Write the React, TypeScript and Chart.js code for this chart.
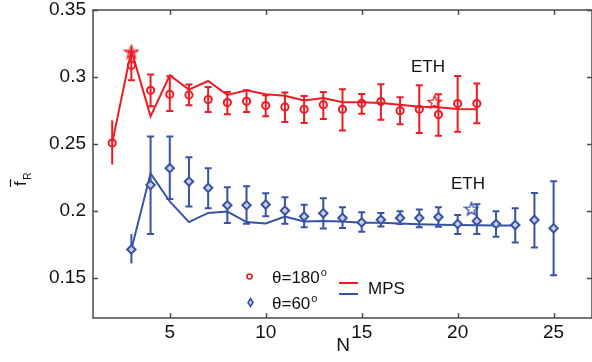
import { useEffect, useRef } from "react";
import { Chart, registerables } from "chart.js";

Chart.register(...registerables);

const FONT = "'Liberation Sans', Arial, Helvetica, sans-serif";
const RED = "#ED1C24";
const BLUE = "#3953A4";

// theta = 180 deg (red)
const redN = [2, 3, 4, 5, 6, 7, 8, 9, 10, 11, 12, 13, 14, 15, 16, 17, 18, 19, 20, 21];
const redMean = [0.2506, 0.3088, 0.290, 0.2871, 0.2866, 0.2831, 0.2809, 0.2818, 0.2786, 0.2776, 0.2758, 0.2793, 0.2758, 0.2803, 0.2816, 0.2748, 0.2758, 0.2719, 0.2801, 0.2801];
const redHi = [0.2676, 0.3188, 0.3018, 0.3006, 0.2943, 0.2925, 0.2888, 0.2901, 0.2863, 0.2883, 0.2858, 0.2888, 0.2908, 0.2873, 0.2946, 0.2848, 0.2938, 0.2871, 0.3008, 0.2951];
const redLo = [0.2346, 0.2976, 0.2781, 0.2746, 0.2788, 0.2738, 0.2721, 0.2738, 0.2706, 0.2663, 0.2656, 0.2686, 0.2601, 0.2726, 0.2681, 0.2646, 0.2581, 0.2561, 0.2591, 0.2654];
const redMps = [0.2506, 0.320, 0.2706, 0.3013, 0.2906, 0.297, 0.2865, 0.290, 0.2871, 0.2860, 0.2825, 0.2843, 0.2812, 0.2811, 0.2806, 0.2793, 0.2778, 0.2773, 0.2760, 0.2758];
const redEthN = [3, 18.8];
const redEth = [0.3188, 0.2813];

// theta = 60 deg (blue)
const blueN = [3, 4, 5, 6, 7, 8, 9, 10, 11, 12, 13, 14, 15, 16, 17, 18, 19, 20, 21, 22, 23, 24, 25];
const blueMean = [0.1712, 0.2194, 0.2319, 0.2219, 0.2172, 0.2042, 0.2042, 0.2047, 0.2002, 0.1958, 0.1982, 0.1947, 0.1914, 0.1934, 0.1947, 0.1947, 0.1954, 0.1902, 0.1924, 0.1902, 0.1894, 0.1932, 0.1870];
const blueHi = [0.1827, 0.2556, 0.2556, 0.2401, 0.2319, 0.2177, 0.2184, 0.2131, 0.2101, 0.2045, 0.2094, 0.2027, 0.1989, 0.1985, 0.1997, 0.2011, 0.2027, 0.1969, 0.2049, 0.1997, 0.2019, 0.2134, 0.2222];
const blueLo = [0.1607, 0.1827, 0.2089, 0.2033, 0.2019, 0.1910, 0.1903, 0.1959, 0.1903, 0.1877, 0.1869, 0.1872, 0.1844, 0.1884, 0.1902, 0.1877, 0.1882, 0.1828, 0.1828, 0.1807, 0.1764, 0.1727, 0.1520];
const blueMpsN = [3, 4, 5, 6, 7, 8, 9, 10, 11, 12, 13, 14, 15, 16, 17, 18, 19, 20, 21, 22, 23];
const blueMps = [0.1712, 0.228, 0.207, 0.1916, 0.1985, 0.1995, 0.1916, 0.1906, 0.1957, 0.1921, 0.1925, 0.1921, 0.1912, 0.1912, 0.1905, 0.1900, 0.1897, 0.1895, 0.1892, 0.1890, 0.1890];
const blueEthN = [20.72];
const blueEth = [0.2015];

const xTicks = [5, 10, 15, 20, 25];
const yTicks = [0.15, 0.2, 0.25, 0.3, 0.35];
const xRange = [1, 27];
const yRange = [0.12, 0.35];
const caplessRed = [2];
const caplessBlue = [3];

function pts(xs: number[], ys: number[]) {
  return xs.map((x, i) => ({ x, y: ys[i] }));
}

function makeStar(color: string) {
  const c = document.createElement("canvas");
  c.width = 16;
  c.height = 16;
  const g = c.getContext("2d")!;
  g.strokeStyle = color;
  g.lineWidth = 1.4;
  g.beginPath();
  for (let i = 0; i < 10; i++) {
    const r = i % 2 === 0 ? 7 : 2.9;
    const a = -Math.PI / 2 + (i * Math.PI) / 5;
    const px = 8 + r * Math.cos(a);
    const py = 8.5 + r * Math.sin(a);
    if (i === 0) g.moveTo(px, py);
    else g.lineTo(px, py);
  }
  g.closePath();
  g.stroke();
  return c;
}

function drawErrors(chart: any, xs: number[], hi: number[], lo: number[], color: string, capless: number[]) {
  const { ctx, scales } = chart;
  const sx = scales.x;
  const sy = scales.y;
  ctx.save();
  ctx.strokeStyle = color;
  ctx.lineWidth = 2;
  xs.forEach((n, i) => {
    const px = sx.getPixelForValue(n);
    const y1 = sy.getPixelForValue(hi[i]);
    const y2 = sy.getPixelForValue(lo[i]);
    ctx.beginPath();
    ctx.moveTo(px, y1);
    ctx.lineTo(px, y2);
    if (!capless.includes(n)) {
      ctx.moveTo(px - 3.5, y1);
      ctx.lineTo(px + 3.5, y1);
      ctx.moveTo(px - 3.5, y2);
      ctx.lineTo(px + 3.5, y2);
    }
    ctx.stroke();
  });
  ctx.restore();
}

const overlay = {
  id: "overlay",
  beforeDatasetsDraw(chart: any) {
    drawErrors(chart, redN, redHi, redLo, RED, caplessRed);
    drawErrors(chart, blueN, blueHi, blueLo, BLUE, caplessBlue);
  },
  afterDraw(chart: any) {
    const { ctx, chartArea: a, scales } = chart;
    const sx = scales.x;
    const sy = scales.y;
    ctx.save();
    // frame
    ctx.strokeStyle = "#4a4a4a";
    ctx.lineWidth = 1.5;
    ctx.strokeRect(a.left, a.top, a.right - a.left, a.bottom - a.top);
    ctx.beginPath();
    xTicks.forEach((t) => {
      const px = Math.round(sx.getPixelForValue(t)) + 0.5;
      ctx.moveTo(px, a.bottom);
      ctx.lineTo(px, a.bottom - 5);
      ctx.moveTo(px, a.top);
      ctx.lineTo(px, a.top + 5);
    });
    yTicks.forEach((t) => {
      const py = Math.round(sy.getPixelForValue(t)) + 0.5;
      ctx.moveTo(a.left, py);
      ctx.lineTo(a.left + 5, py);
      ctx.moveTo(a.right, py);
      ctx.lineTo(a.right - 5, py);
    });
    ctx.stroke();

    ctx.fillStyle = "#111";
    ctx.textBaseline = "alphabetic";
    // x title
    ctx.font = `19px ${FONT}`;
    ctx.textAlign = "center";
    ctx.fillText("N", 343, 351);
    // y title: f-bar with subscript R, rotated
    ctx.save();
    ctx.translate(26, 186);
    ctx.rotate(-Math.PI / 2);
    ctx.textAlign = "left";
    ctx.font = `17px ${FONT}`;
    ctx.fillText("f", 0, 0);
    const fw = ctx.measureText("f").width;
    ctx.lineWidth = 1.2;
    ctx.strokeStyle = "#111";
    ctx.beginPath();
    ctx.moveTo(-1, -15.5);
    ctx.lineTo(fw + 2, -15.5);
    ctx.stroke();
    ctx.font = `10px ${FONT}`;
    ctx.fillText("R", fw + 1.5, 5);
    ctx.restore();

    // ETH labels
    ctx.font = `17px ${FONT}`;
    ctx.textAlign = "left";
    ctx.fillText("ETH", 411, 72);
    ctx.fillText("ETH", 451, 189);

    // legend
    const deg = (txt: string, x: number, y: number) => {
      ctx.font = `17px ${FONT}`;
      ctx.fillText(txt, x, y);
      const w = ctx.measureText(txt).width;
      ctx.font = `11px ${FONT}`;
      ctx.fillText("o", x + w + 1, y - 7);
    };
    deg("\u03b8=180", 272, 283);
    deg("\u03b8=60", 272, 309);
    ctx.lineWidth = 1.6;
    ctx.strokeStyle = RED;
    ctx.beginPath();
    ctx.arc(249.5, 276.5, 2.5, 0, Math.PI * 2);
    ctx.stroke();
    ctx.strokeStyle = BLUE;
    ctx.fillStyle = "#c9d1ea";
    ctx.beginPath();
    ctx.moveTo(250.5, 298.5);
    ctx.lineTo(253, 302.5);
    ctx.lineTo(250.5, 306.5);
    ctx.lineTo(248, 302.5);
    ctx.closePath();
    ctx.fill();
    ctx.stroke();
    ctx.lineWidth = 2;
    ctx.strokeStyle = RED;
    ctx.beginPath();
    ctx.moveTo(339, 283);
    ctx.lineTo(358, 283);
    ctx.stroke();
    ctx.strokeStyle = BLUE;
    ctx.beginPath();
    ctx.moveTo(339, 294);
    ctx.lineTo(358, 294);
    ctx.stroke();
    ctx.fillStyle = "#111";
    ctx.font = `17px ${FONT}`;
    ctx.fillText("MPS", 368, 294);
    ctx.restore();
  },
};

export default function App() {
  const ref = useRef<HTMLCanvasElement | null>(null);
  useEffect(() => {
    if (!ref.current) return;
    const chart = new Chart(ref.current, {
      type: "scatter",
      data: {
        datasets: [
          {
            data: pts(redEthN, redEth),
            pointStyle: makeStar(RED) as any,
            pointRadius: 7,
            showLine: false,
          },
          {
            data: pts(blueEthN, blueEth),
            pointStyle: makeStar(BLUE) as any,
            pointRadius: 7,
            showLine: false,
          },
          {
            data: pts(redN, redMean),
            pointStyle: "circle",
            pointRadius: 3.6,
            borderWidth: 2,
            borderColor: RED,
            backgroundColor: "rgba(255,255,255,0)",
            showLine: false,
          },
          {
            data: pts(blueN, blueMean),
            pointStyle: "rectRot",
            pointRadius: 4.2,
            borderWidth: 2,
            borderColor: BLUE,
            backgroundColor: "#c9d1ea",
            showLine: false,
          },
          {
            data: pts(redN, redMps),
            showLine: true,
            borderColor: RED,
            borderWidth: 2,
            pointRadius: 0,
            tension: 0,
          },
          {
            data: pts(blueMpsN, blueMps),
            showLine: true,
            borderColor: BLUE,
            borderWidth: 2,
            pointRadius: 0,
            tension: 0,
          },
        ],
      },
      options: {
        animation: false,
        responsive: false,
        events: [],
        layout: { padding: { top: 0, right: 5, left: 0, bottom: 0 } },
        plugins: { legend: { display: false }, tooltip: { enabled: false } },
        scales: {
          x: {
            type: "linear",
            min: xRange[0],
            max: xRange[1],
            grid: { display: false, drawTicks: false },
            border: { display: false },
            afterBuildTicks: (s: any) => {
              s.ticks = xTicks.map((v) => ({ value: v }));
            },
            afterFit: (s: any) => {
              s.height = 44;
            },
            ticks: {
              padding: 3,
              color: "#111",
              font: { family: FONT, size: 19 },
              maxRotation: 0,
              callback: (v: any) => String(v),
            },
          },
          y: {
            type: "linear",
            min: yRange[0],
            max: yRange[1],
            grid: { display: false, drawTicks: false },
            border: { display: false },
            afterBuildTicks: (s: any) => {
              s.ticks = yTicks.map((v) => ({ value: v }));
            },
            afterFit: (s: any) => {
              s.width = 93;
              s.paddingTop = 10;
              s.paddingBottom = 0;
            },
            ticks: {
              padding: 7,
              color: "#111",
              font: { family: FONT, size: 19 },
              callback: (v: any) => String(Number(Number(v).toFixed(2))),
            },
          },
        },
      },
      plugins: [overlay],
    });
    return () => chart.destroy();
  }, []);
  return (
    <div
      style={{
        position: "fixed",
        left: 0,
        top: 0,
        width: 592,
        height: 362,
        overflow: "hidden",
        background: "#fff",
      }}
    >
      <canvas ref={ref} width={600} height={362} style={{ display: "block", width: 600, height: 362 }} />
    </div>
  );
}
